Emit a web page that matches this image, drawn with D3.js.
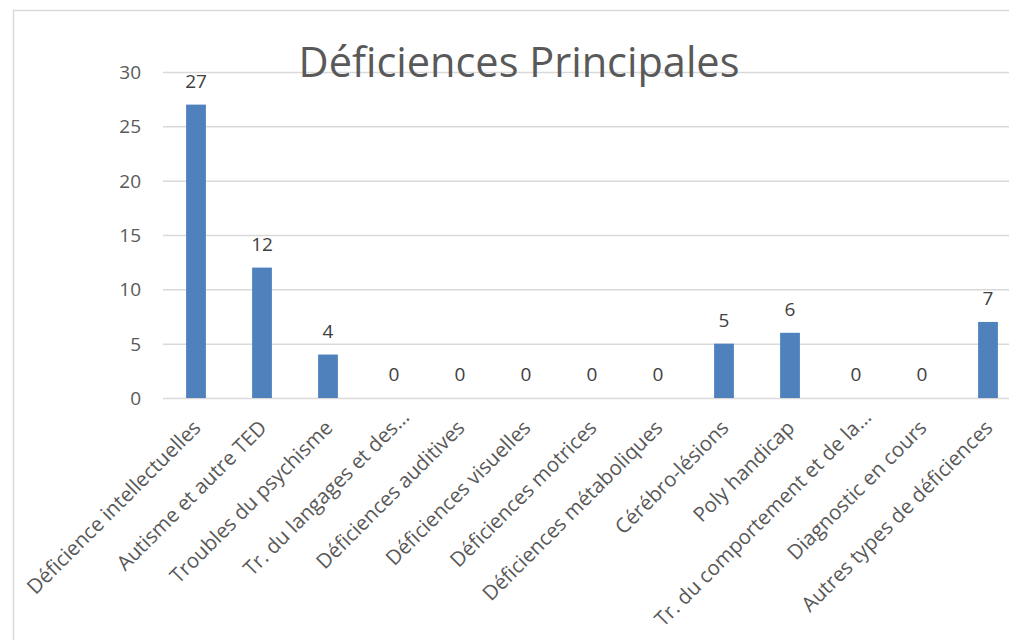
<!DOCTYPE html>
<html>
<head>
<meta charset="utf-8">
<script src="https://cdn.jsdelivr.net/npm/d3@7"></script>
<style>
  html, body { margin: 0; padding: 0; background: #fff; }
  svg { display: block; font-family: "Open Sans", "Noto Sans", sans-serif; }
</style>
</head>
<body>
<svg id="chart" width="1009" height="640"></svg>
<script>
// Déficiences principales: one count per category
var categories = [
  'Déficience intellectuelles', 'Autisme et autre TED', 'Troubles du psychisme',
  'Tr. du langages et des...', 'Déficiences auditives', 'Déficiences visuelles',
  'Déficiences motrices', 'Déficiences métaboliques', 'Cérébro-lésions',
  'Poly handicap', 'Tr. du comportement et de la...', 'Diagnostic en cours',
  'Autres types de déficiences'
]
var values = [27, 12, 4, 0, 0, 0, 0, 0, 5, 6, 0, 0, 7]
var yTicks = [0, 5, 10, 15, 20, 25, 30]
var title = 'Déficiences Principales'

var svg = d3.select('#chart')
var W = 1009, H = 640
var plot = {left: 163, right: 1021, top: 72, bottom: 398}

// outer frame of the chart area
svg.append('rect')
  .attr('x', 13.5).attr('y', 10.5).attr('width', W + 20).attr('height', H + 20)
  .attr('fill', '#fff').attr('stroke', '#d9d9d9').attr('stroke-width', 1.5)

var x = d3.scaleBand().domain(categories).range([plot.left, plot.right]).paddingInner(0.7).paddingOuter(0.35)
var y = d3.scaleLinear().domain([0, 30]).range([plot.bottom, plot.top])

// gridlines
svg.append('g').selectAll('line').data(yTicks).join('line')
  .attr('x1', plot.left).attr('x2', W)
  .attr('y1', function(d){ return y(d) + 0.5 }).attr('y2', function(d){ return y(d) + 0.5 })
  .attr('stroke', '#d9d9d9').attr('stroke-width', 1.5)

// y axis labels
var yAxis = d3.axisLeft(y).tickValues(yTicks).tickSize(0).tickPadding(0)
var yg = svg.append('g').attr('transform', 'translate(' + 141 + ',0)').call(yAxis)
yg.select('.domain').remove()
yg.selectAll('text').attr('font-size', 19).attr('fill', '#595959')
  .attr('font-family', '"Open Sans", sans-serif').attr('dy', '0.35em')

// title
svg.append('text').text(title)
  .attr('x', 519).attr('y', 77).attr('text-anchor', 'middle')
  .attr('font-size', 41.5).attr('fill', '#595959')

// bars
svg.append('g').selectAll('rect').data(values).join('rect')
  .attr('x', function(d, i){ return x(categories[i]) })
  .attr('width', x.bandwidth())
  .attr('y', function(d){ return y(d) })
  .attr('height', function(d){ return y(0) - y(d) })
  .attr('fill', '#4f81bd')

// value labels
svg.append('g').selectAll('text').data(values).join('text')
  .text(function(d){ return d })
  .attr('x', function(d, i){ return x(categories[i]) + x.bandwidth() / 2 })
  .attr('y', function(d){ return y(d) - 17 })
  .attr('text-anchor', 'middle')
  .attr('font-size', 19).attr('fill', '#404040')

// category labels, rotated -45 (truncated ones sit a bit further along)
var xAxis = d3.axisBottom(x).tickSize(0).tickPadding(0)
var xg = svg.append('g').attr('transform', 'translate(0,' + plot.bottom + ')').call(xAxis)
xg.select('.domain').remove()
xg.selectAll('text')
  .attr('font-size', 20.5).attr('fill', '#595959')
  .attr('font-family', '"Open Sans", sans-serif')
  .attr('text-anchor', 'end').attr('dy', null).attr('y', 0)
  .attr('dx', function(d){ return /\.\.\.$/.test(d) ? 15 : 0 })
  .attr('transform', 'translate(6,31) rotate(-45)')
</script>
</body>
</html>
